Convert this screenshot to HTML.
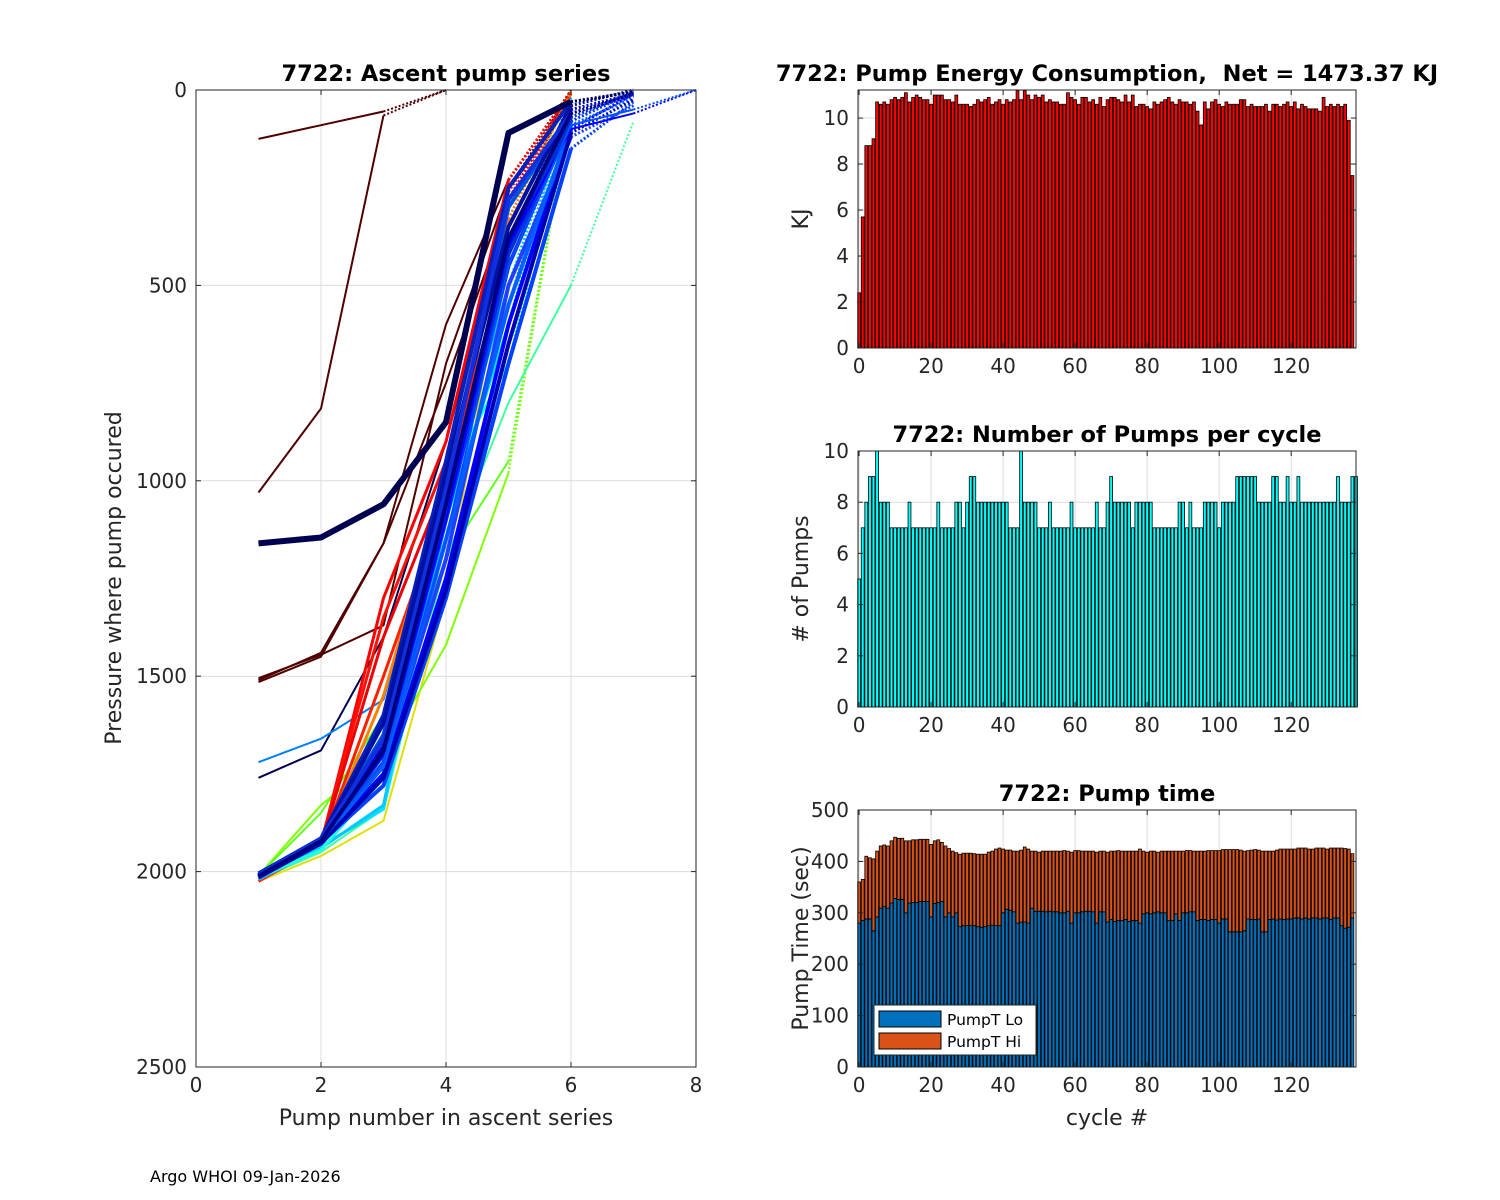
<!DOCTYPE html>
<html><head><meta charset="utf-8"><style>
body{margin:0;background:#fff;}
svg{display:block;font-family:"DejaVu Sans","Liberation Sans",sans-serif;}
text{white-space:pre;}
</style></head><body>
<svg id="fig" width="1500" height="1200" viewBox="0 0 1500 1200" xmlns="http://www.w3.org/2000/svg">
<rect width="1500" height="1200" fill="#fff"/>
<g id="left"></g>
<g id="energy"></g>
<g id="pumps"></g>
<g id="ptime"></g>
<text x="150" y="1182" font-size="16">Argo WHOI 09-Jan-2026</text>
</svg>
<script>
const energy=[2.4,5.7,8.8,8.8,9.1,10.7,10.6,10.7,10.6,10.8,10.9,10.8,10.9,11.1,10.7,10.9,11.0,10.9,10.8,10.8,10.6,11.0,11.0,11.0,10.8,10.8,10.7,11.0,10.6,10.6,10.6,10.5,10.6,10.8,10.7,10.8,10.9,10.6,10.7,10.8,10.6,10.8,10.7,10.8,11.2,10.8,11.2,11.0,10.8,11.0,10.9,11.0,10.7,10.8,10.7,10.7,10.6,10.6,11.1,10.9,10.8,10.6,10.9,10.9,10.7,10.8,10.6,10.9,10.5,10.8,10.9,10.9,10.8,10.7,11.0,10.7,11.0,10.5,10.6,10.6,10.5,10.4,10.7,10.6,10.7,10.8,10.9,10.7,10.6,10.8,10.7,10.7,10.6,10.7,10.3,9.7,10.7,10.4,10.7,10.8,10.6,10.5,10.7,10.6,10.6,10.6,10.8,10.8,10.5,10.6,10.5,10.5,10.5,10.6,10.3,10.6,10.6,10.5,10.6,10.7,10.5,10.7,10.4,10.6,10.5,10.4,10.4,10.4,10.3,10.9,10.5,10.6,10.5,10.6,10.5,10.6,9.9,7.5];
const pumps=[5,7,8,9,9,10,8,8,8,7,7,7,7,7,8,7,7,7,7,7,7,7,8,7,7,7,7,8,8,7,8,9,9,8,8,8,8,8,8,8,8,8,7,7,7,10,8,8,8,8,7,7,7,8,7,7,7,7,7,8,7,7,7,7,7,7,8,7,7,8,9,8,8,8,8,8,7,8,8,8,8,8,7,7,7,7,7,7,7,8,8,7,8,7,7,7,8,8,8,8,7,8,8,8,8,9,9,9,9,9,9,8,8,8,8,9,9,8,8,9,8,8,9,8,8,8,8,8,8,8,8,8,8,9,8,8,8,9,9];
const pumpLo=[280,285,288,288,265,292,309,312,309,319,328,326,326,300,319,320,320,322,322,322,292,318,320,322,292,300,292,300,273,275,275,275,275,273,272,273,275,276,275,275,300,307,305,302,280,282,282,280,309,303,303,303,302,303,302,302,300,300,303,280,300,300,302,303,303,302,280,302,302,282,287,283,285,285,287,283,285,285,280,298,300,298,300,302,300,300,285,285,298,285,300,300,302,302,285,287,287,285,287,287,280,288,288,263,263,263,263,265,288,287,287,288,263,263,287,288,286,288,287,288,288,290,290,288,290,288,290,290,288,290,290,287,290,290,275,270,272,290];
const pumpTotal=[360,365,410,407,405,420,430,432,430,440,447,445,445,440,440,442,442,443,443,443,433,440,442,437,430,425,420,417,414,416,416,416,415,414,414,414,418,420,424,426,424,422,422,420,420,422,428,424,420,420,418,420,420,420,420,420,420,421,420,418,421,421,420,420,420,420,418,420,420,418,420,420,421,420,420,420,420,420,424,420,418,420,420,418,420,420,420,420,420,420,420,421,421,420,420,420,420,421,421,421,421,423,423,423,423,423,422,420,421,422,423,422,420,420,420,420,422,424,424,424,424,424,426,426,426,424,424,426,426,426,424,426,426,426,426,425,424,415];
const rightTicks=[0,20,40,60,80,100,120];
const energyTicks=[0,2,4,6,8,10];
const pumpTicks=[0,2,4,6,8,10];
const timeTicks=[0,100,200,300,400,500];
const leftXTicks=[0,2,4,6,8];
const leftYTicks=[0,500,1000,1500,2000,2500];
const profColors=["#500000","#500000","#500000","#500000","#500000","#000050","#0080ff","#e0e000","#80ff00","#60ff20","#40ffa0","#ff0000","#ff1000","#ee0000","#ff2000","#ff8000","#00e0ff","#00c8ff","#20ffe0","#40a0ff","#0000ff","#0030ff","#0050e0","#0020c0","#2040ff","#0000d0","#0040ff","#0010a0","#0060ff","#1030e0","#0000b0","#0030d0","#0000ff","#0050ff","#000080","#000050"];
const profiles=[
[125,90,55,0],[1030,815,65,0],[1510,1440,1160,750,300,0],[1505,1445,1370,700,250,5],[1515,1450,1160,600,230,0],
[1760,1690,1400,900,300,20],[1720,1660,1560,1000,400,20],[2025,1960,1870,1300,350,10],
[2010,1830,1700,1420,980,40],[2010,1850,1600,1200,950,30],[2020,1950,1840,1200,800,500,80],
[2020,1930,1300,900,230,5],[2015,1925,1350,950,260,10],[2020,1930,1400,1000,280,5],[2025,1935,1500,1050,300,10],
[2015,1935,1550,1000,330,5],[2015,1935,1840,1100,600,20],[2020,1940,1830,1050,500,30],[2015,1945,1760,1000,700,40],
[2010,1930,1720,1150,550,30],
[2010,1920,1750,1250,600,100,10],[2015,1920,1700,1100,450,80,5],[2010,1915,1650,1000,300,60,10],[2005,1915,1600,950,250,30,5],
[2015,1925,1720,1200,500,120,40],[2010,1920,1680,1050,400,50,10],[2015,1925,1780,1300,700,150,30],[2010,1918,1620,980,350,40,0],
[2012,1922,1730,1150,550,90,20],[2008,1916,1660,1020,280,60,15],[2015,1928,1760,1280,650,110,25],[2010,1920,1700,1080,420,70,5],
[2010,1920,1700,1100,400,100,60,0],[2012,1925,1720,1150,450,90,50,0],[2012,1922,1690,1060,380,60,10],
[1160,1145,1060,850,110,30,5]];
const profWidths=[2,2,2,2,2,2,2,2,2,2,2,3,3,3,3,3,3,3,3,3,4,4,4,4,4,4,4,4,4,4,4,4,2,2,4,6];

const NS="http://www.w3.org/2000/svg";
function mk(parent,tag,attrs){const e=document.createElementNS(NS,tag);for(const k in attrs)e.setAttribute(k,attrs[k]);parent.appendChild(e);return e;}
function txt(parent,x,y,s,size,anchor,extra){const t=mk(parent,'text',Object.assign({x:x,y:y,'font-size':size,'text-anchor':anchor||'middle',fill:'#262626'},extra||{}));t.textContent=s;return t;}

function frame(g,L,T,R,B,xs,ys,xt,yt,name){
  const grid=mk(g,'g',{});
  
  
  xt.forEach(v=>mk(grid,'line',{x1:xs(v),x2:xs(v),y1:T,y2:B,stroke:'#dcdcdc','stroke-width':1}));
  yt.forEach(v=>mk(grid,'line',{x1:L,x2:R,y1:ys(v),y2:ys(v),stroke:'#dcdcdc','stroke-width':1}));
}
function frameTop(g,L,T,R,B,xs,ys,xt,yt,name){
  const box=mk(g,'rect',{x:L,y:T,width:R-L,height:B-T,fill:'none',stroke:'#262626','stroke-width':1});
  
  
  xt.forEach(v=>{mk(g,'line',{x1:xs(v),x2:xs(v),y1:B,y2:B-5,stroke:'#262626'});mk(g,'line',{x1:xs(v),x2:xs(v),y1:T,y2:T+5,stroke:'#262626'});
    const t=txt(g,xs(v),B+25,String(v),20);});
  yt.forEach(v=>{mk(g,'line',{x1:L,x2:L+5,y1:ys(v),y2:ys(v),stroke:'#262626'});mk(g,'line',{x1:R,x2:R-5,y1:ys(v),y2:ys(v),stroke:'#262626'});
    const t=txt(g,L-9,ys(v)+7,String(v),20,'end');});
}

(function(){
  const g=document.getElementById('left');
  const L=196,R=696,T=90,B=1067;
  const xs=v=>L+(v/8)*(R-L), ys=v=>T+(v/2500)*(B-T);
  frame(g,L,T,R,B,xs,ys,leftXTicks,leftYTicks,'left');
  const lines=mk(g,'g',{});
  
  
  profiles.forEach((p,i)=>{
    const n=p.length;
    const pts=p.slice(0,n-1).map((v,j)=>xs(j+1)+','+ys(v)).join(' ');
    const pl=mk(lines,'polyline',{points:pts,fill:'none',stroke:profColors[i],'stroke-width':profWidths[i],'stroke-linejoin':'round'});
    
    
    const d=mk(lines,'line',{x1:xs(n-1),y1:ys(p[n-2]),x2:xs(n),y2:ys(p[n-1]),stroke:profColors[i],'stroke-width':Math.min(profWidths[i],3),'stroke-dasharray':'2,2'});
    
    
  });
  frameTop(g,L,T,R,B,xs,ys,leftXTicks,leftYTicks,'left');
  let t=txt(g,446,81,'7722: Ascent pump series',22.5,'middle',{'font-weight':'bold',fill:'#000'});
  
  t=txt(g,446,1125,'Pump number in ascent series',22);
  
  t=txt(g,121,578,'Pressure where pump occured',22,'middle',{transform:'rotate(-90 121 578)'});
  
})();

const RL=858,RR=1356;
const rxs=v=>RL+(v+0.3)*((RR-RL)/138.3);
function barChart(id,name,T,B,ymax,yt,series,title,ylab){
  const g=document.getElementById(id);
  const ys=v=>B-(v/ymax)*(B-T);
  frame(g,RL,T,RR,B,rxs,ys,rightTicks,yt,name);
  const bw=(RR-RL)/138.3*0.8;
  series.forEach((s)=>{
    s.vals.forEach((v,i)=>{
      const base=s.base?s.base[i]:0;
      const r=mk(g,'rect',{x:rxs(i)-bw/2,y:ys(v),width:bw,height:Math.max(0,ys(base)-ys(v)),fill:s.color,stroke:'#000','stroke-width':0.8});
      
      
    });
  });
  frameTop(g,RL,T,RR,B,rxs,ys,rightTicks,yt,name);
  let t=txt(g,(RL+RR)/2,T-9,title,22.5,'middle',{'font-weight':'bold',fill:'#000'});
  
  const cy=(T+B)/2;
  t=txt(g,808,cy,ylab,22,'middle',{transform:'rotate(-90 808 '+cy+')'});
  
  return g;
}
barChart('energy','energy',90,348,11.22,energyTicks,[{vals:energy,color:'#ff0000'}],'7722: Pump Energy Consumption,  Net = 1473.37 KJ','KJ');
barChart('pumps','pumps',451,707,10,pumpTicks,[{vals:pumps,color:'#00ffff'}],'7722: Number of Pumps per cycle','# of Pumps');
const gt=barChart('ptime','ptime',810,1067,500,timeTicks,[{vals:pumpLo,color:'#0072bd'},{vals:pumpTotal,base:pumpLo,color:'#d95319'}],'7722: Pump time','Pump Time (sec)');
(function(){
  let t=txt(gt,1107,1125,'cycle #',22);
  
  const lg=mk(gt,'g',{});
  
  
  mk(lg,'rect',{x:874,y:1005,width:162,height:50,fill:'#fff',stroke:'#262626','stroke-width':1});
  const e1=mk(lg,'rect',{x:879,y:1011,width:62,height:16,fill:'#0072bd',stroke:'#000'});
  
  const e2=mk(lg,'rect',{x:879,y:1033,width:62,height:16,fill:'#d95319',stroke:'#000'});
  
  t=txt(lg,947,1025,'PumpT Lo',15.5,'start',{fill:'#000'});
  
  t=txt(lg,947,1047,'PumpT Hi',15.5,'start',{fill:'#000'});
  
})();
</script>
</body></html>
